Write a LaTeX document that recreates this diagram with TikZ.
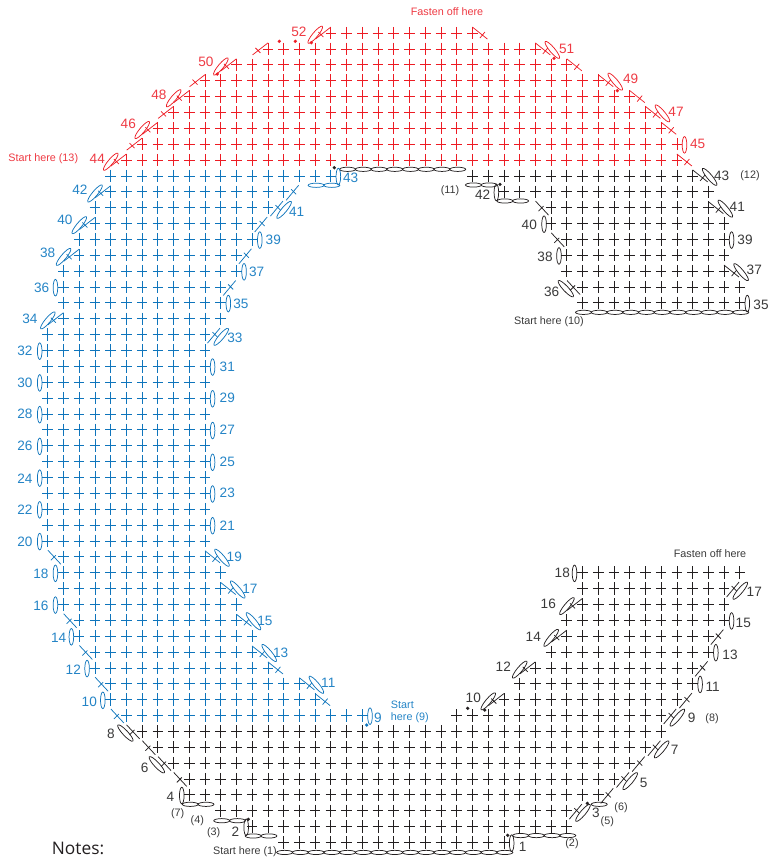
\documentclass[tikz,border=0pt]{standalone}
\usepackage{fontspec}
\setmainfont{Liberation Sans}
\newfontfamily\notesfont{Open Sans}
\usepackage{tikz}

% grid point: column, row, then an offset in pixels
\newcommand{\gridpt}[4]{({47.7+15.73*(#1)+(#3)},{858.3-15.87*(#2)+(#4)})}
\newcommand{\crossrow}[4]{%
  \foreach \col in {#3,...,#4}{
    \draw[#1] \gridpt{\col}{#2}{-5.3}{0} -- \gridpt{\col}{#2}{5.3}{0}
              \gridpt{\col}{#2}{0}{-6.2} -- \gridpt{\col}{#2}{0}{6.2};
  }}
\newcommand{\chainrow}[5]{%
  \foreach \col in {#3,...,#4}{
    \draw[#1] \gridpt{\col}{#2}{1}{#5} ellipse[x radius=8,y radius=2.1];
  }}
\newcommand{\vloop}[4]{\draw[#1] \gridpt{#2}{#3}{#4}{0.7} ellipse[x radius=2.3,y radius=8.3];}
\newcommand{\longloop}[6]{\draw[#1] \gridpt{#2}{#3}{#4}{#5} ellipse[x radius=11,y radius=2.6,rotate=#6];}
\newcommand{\upleft}[3]{\draw[#1] \gridpt{#2}{#3}{0}{-6} -- \gridpt{#2}{#3}{-15.4}{6}
  \gridpt{#2}{#3}{-12.5}{-1} -- \gridpt{#2}{#3}{-7.5}{4};}
\newcommand{\downleft}[3]{\draw[#1] \gridpt{#2}{#3}{-15.5}{-6.5} -- \gridpt{#2}{#3}{-2.5}{7.5}
  \gridpt{#2}{#3}{-12.5}{3.5} -- \gridpt{#2}{#3}{-7.5}{-1.5};}
\newcommand{\upright}[3]{\draw[#1] \gridpt{#2}{#3}{2.5}{8.5} -- \gridpt{#2}{#3}{15}{-6.5}
  \gridpt{#2}{#3}{7.5}{-2.5} -- \gridpt{#2}{#3}{12.5}{2.5};}
\newcommand{\downright}[3]{\draw[#1] \gridpt{#2}{#3}{0}{-6} -- \gridpt{#2}{#3}{15}{6}
  \gridpt{#2}{#3}{7.5}{5} -- \gridpt{#2}{#3}{12.5}{-1};}

\definecolor{inkblack}{HTML}{231F20}
\definecolor{inkblue}{HTML}{0F75BC}
\definecolor{inkred}{HTML}{ED1C24}
\definecolor{textblue}{HTML}{2484C6}
\definecolor{textred}{HTML}{EE3A43}
\definecolor{textgrey}{HTML}{3A3A3A}

\begin{document}
\begin{tikzpicture}[
  x=0.75pt, y=-0.75pt,
  kb/.style={inkblack, line width=0.55pt},
  bl/.style={inkblue, line width=0.55pt},
  rd/.style={inkred, line width=0.55pt},
  num/.style={font=\fontsize{10.2}{11}\selectfont, inner sep=0pt},
  small/.style={font=\fontsize{8.1}{9.5}\selectfont, inner sep=0pt, align=left}
]
  \useasboundingbox (0,0) rectangle (771,858);

  % rows of crosses
  \foreach \r/\a/\b in {1/15/29,2/13/33,3/11/33,4/9/35,5/9/36,6/8/37,7/7/38,8/6/39,9/26/39,
      10/29/40,11/30/41,12/31/41,13/32/42,14/33/42,15/33/43,16/34/43,17/34/43,18/34/44,
      35/34/44,36/34/44,37/33/43,38/33/43,39/33/43,40/32/43,41/32/42,42/29/42,43/27/41}{
    \crossrow{kb}{\r}{\a}{\b}
  }
  \foreach \r/\a/\b in {9/5/20,10/4/17,11/4/16,12/3/14,13/3/13,14/2/13,15/2/12,16/1/12,17/1/11,18/1/11,19/1/10,
      20/0/10,21/0/10,22/0/10,23/0/10,24/0/10,25/0/10,26/0/10,27/0/10,28/0/10,29/0/10,30/0/10,31/0/10,32/0/10,33/0/10,
      34/1/11,35/1/11,36/1/11,37/1/12,38/2/12,39/2/13,40/3/13,41/3/14,42/4/15,43/4/18}{
    \crossrow{bl}{\r}{\a}{\b}
  }
  \foreach \r/\a/\b in {44/5/40,45/6/40,46/7/39,47/8/38,48/9/37,49/10/35,50/12/33,51/14/31,52/18/27}{
    \crossrow{rd}{\r}{\a}{\b}
  }

  % foundation chains
  \chainrow{kb}{1}{15}{29}{10}
  \chainrow{kb}{2}{30}{33}{9}
  \chainrow{kb}{2}{13}{14}{9.4}
  \chainrow{kb}{3}{11}{12}{10}
  \chainrow{kb}{4}{9}{10}{9.5}
  \chainrow{kb}{4}{35}{35}{9.5}
  \chainrow{kb}{35}{34}{44}{9.5}
  \chainrow{kb}{42}{29}{30}{9.2}
  \chainrow{kb}{43}{27}{28}{9.1}
  \chainrow{kb}{44}{19}{26}{9.3}
  \chainrow{bl}{43}{17}{18}{9.4}

  % upright loops
  \foreach \r/\c/\d in {1/29/7.8,2/13/-6,4/9/-7.5,11/41/7.5,13/42/7.5,15/43/7.5,18/34/-8,
      35/44/7.5,38/33/-7.8,39/43/7.5,40/32/-7,42/29/-7.5}{
    \vloop{kb}{\c}{\r}{\d}
  }
  \foreach \r/\c/\d in {9/20/7.7,10/4/-7.8,12/3/-7.8,14/2/-7.8,16/1/-8,18/1/-8,20/0/-8,21/10/7.6,22/0/-8,23/10/7.6,
      24/0/-8,25/10/7.6,26/0/-8,27/10/7.6,28/0/-8,29/10/7.6,30/0/-8,31/10/7.6,32/0/-8,35/11/7.6,36/1/-8,37/12/7.6,39/13/7.6,43/18/7.5}{
    \vloop{bl}{\c}{\r}{\d}
  }
  \vloop{rd}{40}{45}{7.6}

  % slanted stitches
  \foreach \r/\c in {10/29,12/31,14/33,16/34}{
    \upleft{kb}{\c}{\r}
    \longloop{kb}{\c}{\r}{-15.6}{1.7}{50}
  }
  \foreach \r/\c in {34/1,38/2,40/3,42/4}{
    \upleft{bl}{\c}{\r}
    \longloop{bl}{\c}{\r}{-15.6}{1.7}{50}
  }
  \foreach \r/\c in {44/5,46/7,48/9,50/12,52/18}{
    \upleft{rd}{\c}{\r}
    \longloop{rd}{\c}{\r}{-15.6}{1.7}{50}
  }
  \foreach \r/\c in {45/6,47/8,49/10,51/14}{
    \upleft{rd}{\c}{\r}
  }
  \foreach \r/\c in {5/9,7/7,39/33,41/32}{
    \downleft{kb}{\c}{\r}
  }
  \foreach \r/\c in {9/5,11/4,13/3,15/2,19/1}{
    \downleft{bl}{\c}{\r}
  }
  \foreach \r/\c in {6/8,8/6,36/34}{
    \downleft{kb}{\c}{\r}
    \longloop{kb}{\c}{\r}{-16.7}{1.7}{-47}
  }
  \foreach \r/\c in {4/35,6/37,10/40,12/41,14/42}{
    \upright{kb}{\c}{\r}
  }
  \foreach \r/\c in {36/11,38/12,40/13,42/15}{
    \upright{bl}{\c}{\r}
  }
  \foreach \r/\c in {3/33,5/36,7/38,9/39,17/43}{
    \upright{kb}{\c}{\r}
    \longloop{kb}{\c}{\r}{16.2}{2.2}{50}
  }
  \foreach \r/\c in {33/10,41/14}{
    \upright{bl}{\c}{\r}
    \longloop{bl}{\c}{\r}{16.2}{2.2}{50}
  }
  \foreach \r/\c in {10/17,12/14}{
    \downright{bl}{\c}{\r}
  }
  \foreach \r/\c in {44/40,46/39,48/37,50/33,52/27}{
    \downright{rd}{\c}{\r}
  }
  \foreach \r/\c in {11/16,13/13,15/12,17/11,19/10}{
    \downright{bl}{\c}{\r}
    \longloop{bl}{\c}{\r}{17}{1}{-50}
  }
  \foreach \r/\c in {47/38,49/35,51/31}{
    \downright{rd}{\c}{\r}
    \longloop{rd}{\c}{\r}{17}{1}{-50}
  }
  \foreach \r/\c in {37/43,41/42,43/41}{
    \downright{kb}{\c}{\r}
    \longloop{kb}{\c}{\r}{17}{1}{-50}
  }

  % dots
  \foreach \x/\y in {507.7/835.3,248.3/819.3,587.3/803.3,467.7/708.3,484.7/710,500/184.3,334.3/167.7}{
    \fill[inkblack] (\x,\y) circle[radius=1.8];
  }
  \fill[inkblue] (366.7,725) circle[radius=1.8];
  \foreach \x/\y in {217.3/74,279.3/41.3,295.3/41.3,311.3/42.7,554/58.3,617.3/90.7}{
    \fill[inkred] (\x,\y) circle[radius=1.8];
  }

  % row numbers
  \foreach \t/\x/\y in {1/522.7/846.7,2/235.3/831.7,3/596/812.7,4/170.3/796.7,5/643.7/782.7,6/144.7/767.7,7/674.7/750,
      8/111/734.3,9/691.7/718.3,10/473.3/698.3,11/712.7/686.7,12/503.3/666.7,13/730/655,14/533.3/636.7,15/743.3/623.3,
      16/548.3/604.3,17/754.3/591.7,18/562.3/573.3,35/761/305,36/551.7/291.7,37/754.3/270,38/545/257.3,39/745/240,
      40/529.3/225,41/737.3/206.7,42/482.7/195,43/721.7/175.7}{
    \node[num, textgrey] (k\t) at (\x,\y) {\t};
  }
  \foreach \t/\x/\y in {9/378/718,10/89.3/701.7,11/328.3/683.3,12/73.3/669.3,13/280.7/652.7,14/58.7/638.3,15/265/620.7,
      16/41/606,17/250/589.3,18/41/574.3,19/234.3/557.3,20/25/541.7,21/227.3/525.7,22/25/510,23/227.3/493.3,24/25/478.3,
      25/227.3/462.3,26/25/446,27/227.3/430,28/25/414.3,29/227.3/398.3,30/25/383,31/227.3/366.7,32/25/351,33/235/338.3,
      34/30/319.3,35/241/304,36/41.7/288.3,37/256.7/271.7,38/47.7/253.3,39/273.3/240,40/65/220,41/296.7/212.3,42/80/190,43/350.7/177.7}{
    \node[num, textblue] (b\t) at (\x,\y) {\t};
  }
  \foreach \t/\x/\y in {44/97.3/159.3,45/697.7/144.3,46/128.3/124.3,47/676/111.7,48/159/95,49/630.7/79.3,50/206/61.7,51/566.7/49.3,52/299/31.7}{
    \node[num, textred] (r\t) at (\x,\y) {\t};
  }

  % small notes
  \node[small, textgrey] (start1) at (245,852) {Start here (1)};
  \node[small, textgrey] (start10) at (549,322) {Start here (10)};
  \node[small, textgrey] (fasten18) at (710,553.3) {Fasten off here};
  \foreach \t/\x/\y in {2/572/844,3/213.7/832.7,4/197.3/820.7,5/607.3/821.7,6/621/807.3,7/177.7/813.7,8/712/719,11/450/190.7,12/750/175.7}{
    \node[small, textgrey] (turn\t) at (\x,\y) {(\t)};
  }
  \node[small, textblue, anchor=west] (start9) at (390.7,711.7) {Start\\here (9)};
  \node[small, textred] (start13) at (43.3,158.3) {Start here (13)};
  \node[small, textred] (fasten52) at (447,12) {Fasten off here};
  \node[inner sep=0pt, inkblack, font=\notesfont\fontsize{13}{15}\selectfont] (notes) at (78,848) {Notes:};
\end{tikzpicture}
\end{document}
